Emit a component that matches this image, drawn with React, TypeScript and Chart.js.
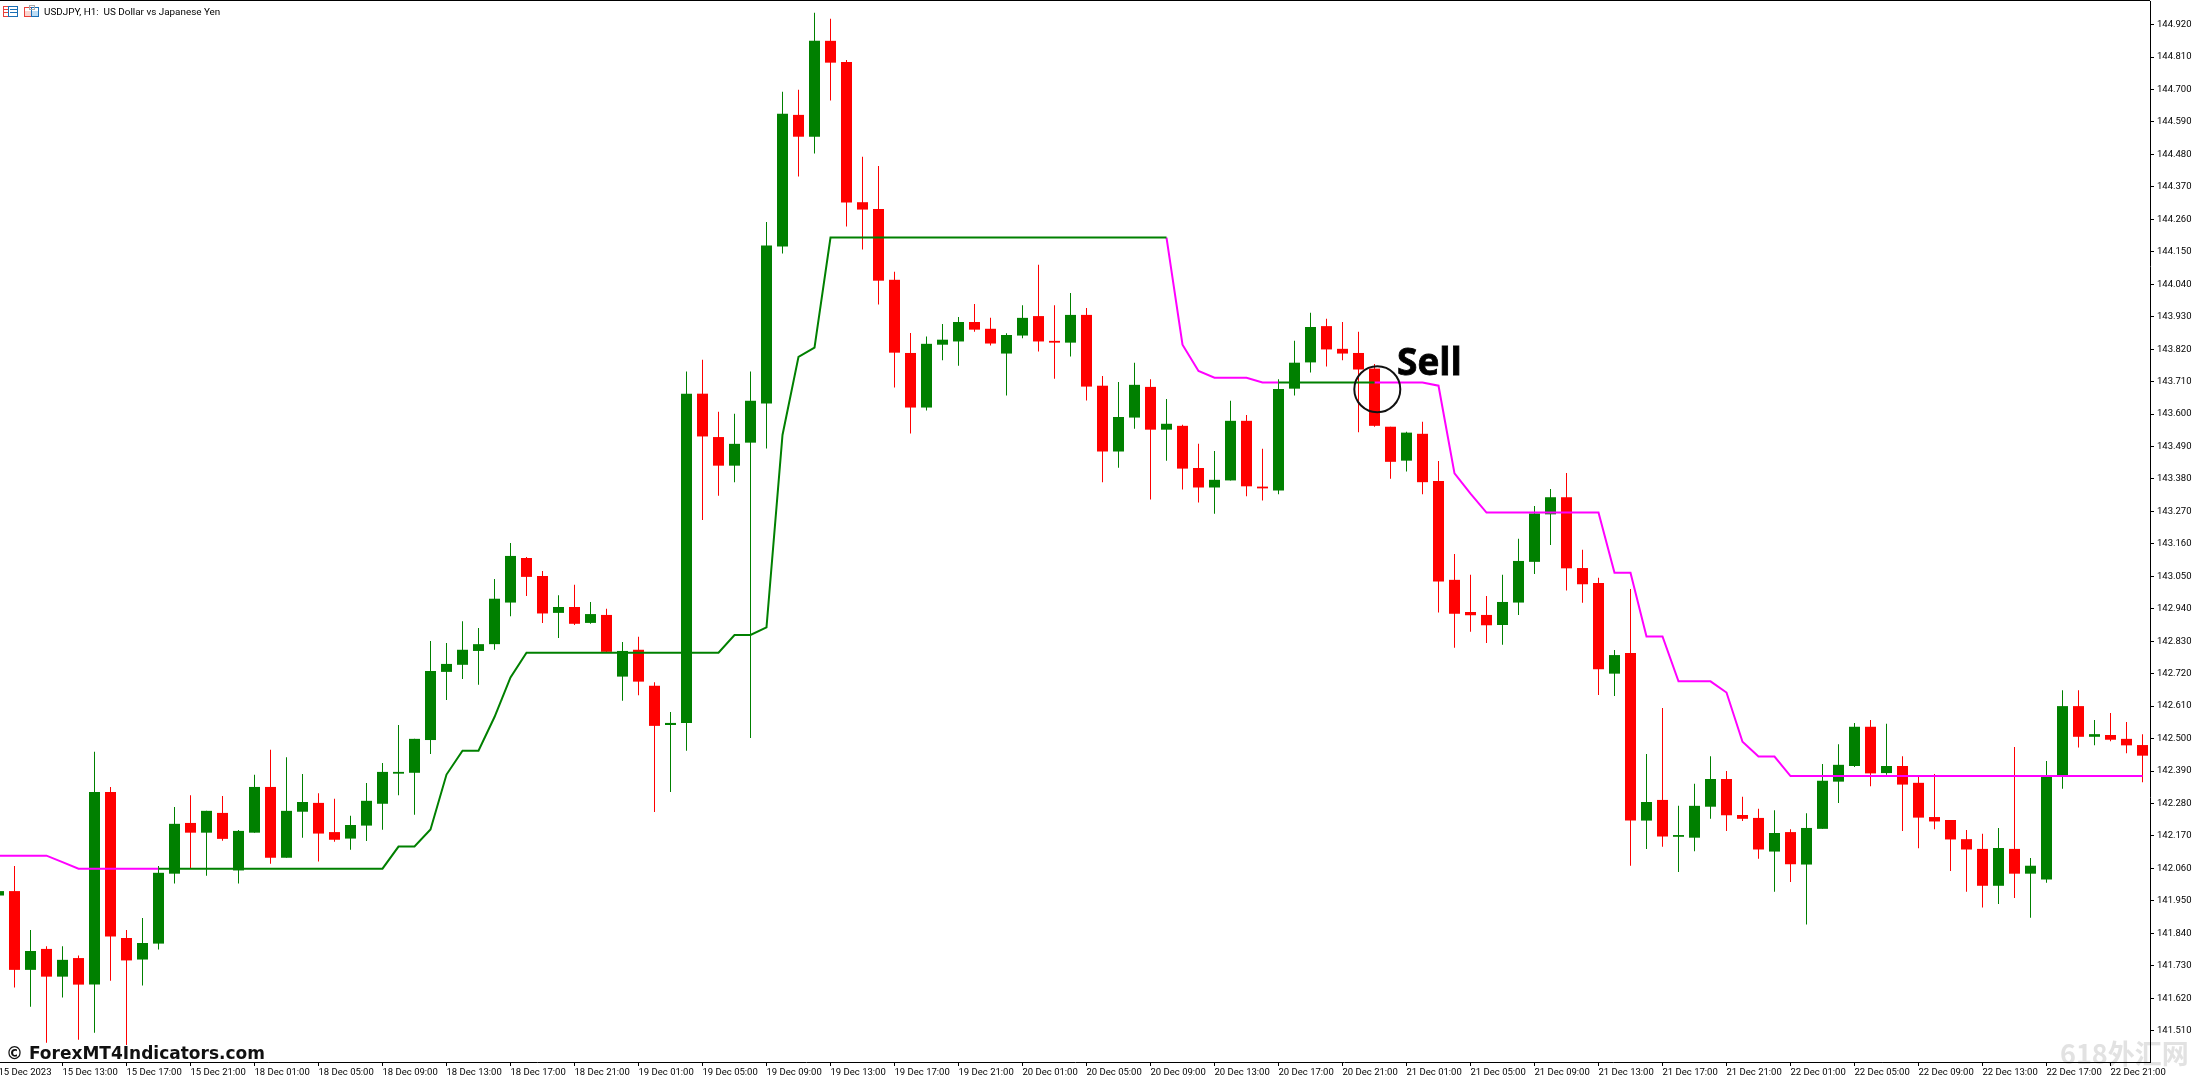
import React, { useEffect, useRef } from "react";
import { Chart, registerables } from "chart.js";

Chart.register(...registerables);

const titleText = "USDJPY, H1:  US Dollar vs Japanese Yen";
const copyrightText = "© ForexMT4Indicators.com";
const signalText = "Sell";
const watermarkText = "618外汇网";

const tickLabels = [
  "15 Dec 2023", "15 Dec 13:00", "15 Dec 17:00", "15 Dec 21:00",
  "18 Dec 01:00", "18 Dec 05:00", "18 Dec 09:00", "18 Dec 13:00", "18 Dec 17:00", "18 Dec 21:00",
  "19 Dec 01:00", "19 Dec 05:00", "19 Dec 09:00", "19 Dec 13:00", "19 Dec 17:00", "19 Dec 21:00",
  "20 Dec 01:00", "20 Dec 05:00", "20 Dec 09:00", "20 Dec 13:00", "20 Dec 17:00", "20 Dec 21:00",
  "21 Dec 01:00", "21 Dec 05:00", "21 Dec 09:00", "21 Dec 13:00", "21 Dec 17:00", "21 Dec 21:00",
  "22 Dec 01:00", "22 Dec 05:00", "22 Dec 09:00", "22 Dec 13:00", "22 Dec 17:00", "22 Dec 21:00",
];

const priceTicks = [
  144.92, 144.81, 144.7, 144.59, 144.48, 144.37, 144.26, 144.15, 144.04, 143.93, 143.82,
  143.71, 143.6, 143.49, 143.38, 143.27, 143.16, 143.05, 142.94, 142.83, 142.72, 142.61,
  142.5, 142.39, 142.28, 142.17, 142.06, 141.95, 141.84, 141.73, 141.62, 141.51,
];

const opens = [
  141.968, 141.983, 141.716, 141.787, 141.693, 141.756, 141.666, 142.319, 141.824, 141.751,
  141.805, 142.042, 142.214, 142.181, 142.248, 142.053, 142.181, 142.336, 142.096, 142.252,
  142.282, 142.183, 142.161, 142.205, 142.279, 142.381, 142.384, 142.495, 142.726, 142.750,
  142.797, 142.820, 142.961, 143.112, 143.051, 142.926, 142.946, 142.892, 142.919, 142.710,
  142.801, 142.679, 142.546, 142.553, 143.669, 143.522, 143.425, 143.503, 143.636, 144.168,
  144.614, 144.540, 144.865, 144.793, 144.318, 144.295, 144.055, 143.807, 143.622, 143.835,
  143.846, 143.912, 143.889, 143.805, 143.866, 143.932, 143.848, 143.842, 143.936, 143.696,
  143.473, 143.588, 143.692, 143.547, 143.560, 143.417, 143.351, 143.375, 143.577, 143.354,
  143.341, 143.686, 143.775, 143.898, 143.821, 143.807, 143.754, 143.557, 143.442, 143.533,
  143.373, 143.038, 142.929, 142.919, 142.885, 142.961, 143.099, 143.260, 143.318, 143.078,
  143.027, 142.720, 142.790, 142.222, 142.292, 142.167, 142.164, 142.269, 142.363, 142.241,
  142.231, 142.117, 142.183, 142.073, 142.194, 142.354, 142.407, 142.540, 142.383, 142.407,
  142.350, 142.234, 142.224, 142.159, 142.126, 142.001, 142.126, 142.042, 142.022, 142.370,
  142.610, 142.506, 142.512, 142.499, 142.478,
];

const highs = [
  141.990, 142.068, 141.851, 141.796, 141.796, 141.765, 142.455, 142.336, 141.851, 141.892,
  142.068, 142.268, 142.308, 142.255, 142.305, 142.190, 142.377, 142.462, 142.437, 142.380,
  142.315, 142.296, 142.238, 142.349, 142.417, 142.546, 142.499, 142.831, 142.824, 142.898,
  142.875, 143.041, 143.163, 143.115, 143.068, 142.986, 143.021, 142.963, 142.940, 142.827,
  142.845, 142.691, 142.590, 143.744, 143.784, 143.608, 143.601, 143.744, 144.251, 144.692,
  144.699, 144.960, 144.940, 144.800, 144.472, 144.441, 144.082, 143.875, 143.863, 143.905,
  143.929, 143.973, 143.926, 143.874, 143.969, 144.106, 143.969, 144.010, 143.959, 143.729,
  143.709, 143.774, 143.718, 143.651, 143.564, 143.499, 143.475, 143.645, 143.597, 143.482,
  143.718, 143.848, 143.943, 143.923, 143.912, 143.879, 143.770, 143.557, 143.540, 143.574,
  143.441, 143.126, 143.055, 142.983, 143.055, 143.177, 143.288, 143.346, 143.400, 143.140,
  143.045, 142.800, 143.007, 142.448, 142.604, 142.272, 142.347, 142.440, 142.390, 142.303,
  142.262, 142.257, 142.193, 142.247, 142.414, 142.481, 142.553, 142.563, 142.550, 142.440,
  142.372, 142.380, 142.224, 142.190, 142.177, 142.197, 142.471, 142.095, 142.424, 142.664,
  142.664, 142.563, 142.587, 142.556, 142.515,
];

const lows = [
  141.960, 141.656, 141.591, 141.469, 141.622, 141.479, 141.503, 141.679, 141.461, 141.663,
  141.785, 142.009, 142.061, 142.035, 142.154, 142.009, 142.181, 142.076, 142.096, 142.164,
  142.083, 142.150, 142.123, 142.153, 142.191, 142.308, 142.242, 142.448, 142.631, 142.702,
  142.682, 142.801, 142.915, 142.983, 142.892, 142.841, 142.885, 142.889, 142.790, 142.628,
  142.647, 142.251, 142.319, 142.459, 143.241, 143.323, 143.369, 142.502, 143.483, 144.144,
  144.405, 144.483, 144.663, 144.236, 144.158, 143.971, 143.690, 143.534, 143.612, 143.782,
  143.764, 143.879, 143.832, 143.663, 143.857, 143.812, 143.720, 143.795, 143.646, 143.369,
  143.418, 143.550, 143.310, 143.442, 143.344, 143.300, 143.262, 143.375, 143.321, 143.307,
  143.328, 143.663, 143.741, 143.761, 143.782, 143.538, 143.557, 143.381, 143.405, 143.328,
  142.927, 142.808, 142.862, 142.824, 142.818, 142.919, 143.058, 143.156, 143.002, 142.960,
  142.648, 142.644, 142.069, 142.126, 142.133, 142.048, 142.118, 142.228, 142.187, 142.221,
  142.093, 141.981, 142.014, 141.870, 142.194, 142.282, 142.404, 142.338, 142.377, 142.187,
  142.128, 142.193, 142.051, 141.981, 141.927, 141.939, 141.960, 141.893, 142.011, 142.330,
  142.470, 142.477, 142.491, 142.450, 142.352,
];

const closes = [
  141.983, 141.716, 141.780, 141.693, 141.750, 141.666, 142.319, 141.829, 141.748, 141.807,
  142.045, 142.211, 142.181, 142.255, 142.160, 142.187, 142.336, 142.096, 142.255, 142.285,
  142.178, 142.157, 142.207, 142.289, 142.387, 142.387, 142.499, 142.729, 142.753, 142.801,
  142.820, 142.974, 143.119, 143.048, 142.924, 142.946, 142.889, 142.922, 142.794, 142.797,
  142.693, 142.543, 142.553, 143.669, 143.524, 143.425, 143.499, 143.645, 144.171, 144.618,
  144.540, 144.865, 144.791, 144.317, 144.293, 144.052, 143.808, 143.622, 143.838, 143.852,
  143.912, 143.886, 143.839, 143.868, 143.926, 143.846, 143.842, 143.936, 143.693, 143.473,
  143.590, 143.699, 143.547, 143.567, 143.415, 143.351, 143.377, 143.577, 143.355, 143.348,
  143.685, 143.774, 143.895, 143.819, 143.805, 143.751, 143.560, 143.438, 143.537, 143.369,
  143.032, 142.923, 142.918, 142.884, 142.963, 143.102, 143.263, 143.318, 143.077, 143.023,
  142.735, 142.783, 142.222, 142.285, 142.168, 142.173, 142.272, 142.363, 142.240, 142.228,
  142.124, 142.180, 142.074, 142.197, 142.357, 142.411, 142.540, 142.382, 142.407, 142.344,
  142.232, 142.219, 142.158, 142.124, 142.001, 142.129, 142.042, 142.069, 142.373, 142.610,
  142.506, 142.515, 142.496, 142.477, 142.442,
];

const upTrend = [
  null, null, null, null, null, null, null, null, null, null,
  142.059, 142.059, 142.059, 142.059, 142.059, 142.059, 142.059, 142.059, 142.059, 142.059,
  142.059, 142.059, 142.059, 142.059, 142.059, 142.134, 142.134, 142.192, 142.378, 142.459,
  142.459, 142.573, 142.707, 142.791, 142.791, 142.791, 142.791, 142.791, 142.791, 142.791,
  142.791, 142.791, 142.791, 142.791, 142.791, 142.791, 142.851, 142.851, 142.877, 143.529,
  143.794, 143.825, 144.198, 144.198, 144.198, 144.198, 144.198, 144.198, 144.198, 144.198,
  144.198, 144.198, 144.198, 144.198, 144.198, 144.198, 144.198, 144.198, 144.198, 144.198,
  144.198, 144.198, 144.198, 144.198, null, null, null, null, null, null,
  143.707, 143.707, 143.707, 143.707, 143.707, 143.707, 143.707, null, null, null,
];

const downTrend = [
  142.103, 142.103, 142.103, 142.103, 142.081, 142.059, 142.059, 142.059, 142.059, 142.059,
  142.059, null, null, null, null, null, null, null, null, null,
  null, null, null, null, null, null, null, null, null, null,
  null, null, null, null, null, null, null, null, null, null,
  null, null, null, null, null, null, null, null, null, null,
  null, null, null, null, null, null, null, null, null, null,
  null, null, null, null, null, null, null, null, null, null,
  null, null, null, 144.198, 143.835, 143.746, 143.723, 143.723, 143.723, 143.707,
  143.707, null, null, null, null, null, 143.707, 143.707, 143.707, 143.707,
  143.696, 143.399, 143.330, 143.266, 143.266, 143.266, 143.266, 143.266, 143.266, 143.266,
  143.266, 143.062, 143.062, 142.846, 142.846, 142.694, 142.694, 142.694, 142.656, 142.489,
  142.439, 142.439, 142.373, 142.373, 142.373, 142.373, 142.373, 142.373, 142.373, 142.373,
  142.373, 142.373, 142.373, 142.373, 142.373, 142.373, 142.373, 142.373, 142.373, 142.373,
  142.373, 142.373, 142.373, 142.373, 142.373,
];

const signalMark = { x: 86.175, y: 143.684 };

const GREEN = "#008000";
const RED = "#ff0000";
const MAGENTA = "#ff00ff";
const AXIS_FONT = { family: "Roboto", size: 9.5 };

const headerPlugin = {
  id: "header",
  beforeDraw(chart: any) {
    const c = chart.ctx;
    c.save();
    c.fillStyle = "#e2e2e2";
    c.font = "bold 27px 'Noto Sans CJK SC'";
    c.textBaseline = "alphabetic";
    c.textAlign = "left";
    c.fillText(watermarkText, 2060, 1064);
    c.restore();
  },
  afterDraw(chart: any) {
    const c = chart.ctx;
    c.save();
    c.fillStyle = "#000";
    c.fillRect(0, 0, 2150, 1);

    // window icons
    c.lineWidth = 1;
    c.strokeStyle = "#e8403a";
    c.strokeRect(3.5, 6.5, 5, 10);
    c.beginPath();
    c.moveTo(4, 9.5); c.lineTo(8, 9.5);
    c.moveTo(4, 12.5); c.lineTo(8, 12.5);
    c.stroke();
    c.strokeStyle = "#1a6fb5";
    c.strokeRect(8.5, 6.5, 9, 10);
    c.beginPath();
    c.moveTo(10, 9.5); c.lineTo(17, 9.5);
    c.moveTo(10, 12.5); c.lineTo(17, 12.5);
    c.stroke();
    c.strokeStyle = "#e8403a";
    c.strokeRect(24.5, 7.5, 7, 9);
    c.fillStyle = "#fbd5d0";
    c.fillRect(25, 11, 6, 5);
    c.strokeStyle = "#1a6fb5";
    c.strokeRect(31.5, 7.5, 7, 9);
    c.fillStyle = "#bcdcf5";
    c.fillRect(32, 11, 6, 5);
    c.strokeStyle = "#aaa";
    c.strokeRect(29.5, 5.5, 5, 4);

    c.fillStyle = "#000";
    c.textAlign = "left";
    c.textBaseline = "alphabetic";
    c.font = "9.9px Roboto";
    c.fillText(titleText, 44, 15);

    c.font = "bold 37px 'Open Sans'";
    c.fillText(signalText, 1397, 375);
    c.strokeStyle = "#000";
    c.lineWidth = 0.8;
    c.strokeText(signalText, 1397, 375);

    c.fillStyle = "#111";
    c.font = "bold 17px 'DejaVu Sans'";
    c.fillText(copyrightText, 6, 1059);
    c.restore();
  },
};

export default function App() {
  const ref = useRef<HTMLCanvasElement | null>(null);

  useEffect(() => {
    document.body.style.margin = "0";
    if (!ref.current) return;
    const up = opens.map((o, i) => closes[i] >= o);
    const colors = up.map((u) => (u ? GREEN : RED));
    const chart = new Chart(ref.current, {
      type: "bar",
      plugins: [headerPlugin],
      data: {
        datasets: [
          {
            type: "line",
            data: [signalMark],
            showLine: false,
            pointRadius: 23,
            pointBorderWidth: 2,
            pointBorderColor: "#111",
            pointBackgroundColor: "rgba(0,0,0,0)",
            order: -1,
            clip: false,
          },
          {
            type: "line",
            data: upTrend.map((y, x) => ({ x, y })),
            borderColor: GREEN,
            borderWidth: 2,
            pointRadius: 0,
            tension: 0,
            spanGaps: false,
            order: 0,
          },
          {
            type: "line",
            data: downTrend.map((y, x) => ({ x, y })),
            borderColor: MAGENTA,
            borderWidth: 2,
            pointRadius: 0,
            tension: 0,
            spanGaps: false,
            order: 0,
          },
          {
            type: "bar",
            data: opens.map((o, x) => ({ x, y: [o, closes[x]] })),
            backgroundColor: colors,
            barThickness: 11,
            grouped: false,
            borderWidth: 0,
            inflateAmount: 0,
            order: 1,
          },
          {
            type: "bar",
            data: lows.map((l, x) => ({ x, y: [l, highs[x]] })),
            backgroundColor: colors,
            barThickness: 1,
            grouped: false,
            borderWidth: 0,
            inflateAmount: 0,
            order: 2,
          },
        ],
      } as any,
      options: {
        responsive: false,
        animation: false,
        devicePixelRatio: 1,
        events: [],
        layout: { autoPadding: false, padding: { top: 1, left: 0, right: 0, bottom: 0 } },
        plugins: { legend: { display: false }, tooltip: { enabled: false }, title: { display: false } },
        scales: {
          x: {
            type: "linear",
            offset: false,
            min: 0.09375,
            max: 134.46875,
            grid: { offset: false, drawOnChartArea: false, drawTicks: true, tickLength: 4, tickColor: "#000" },
            border: { display: true, color: "#000", width: 1 },
            ticks: {
              autoSkip: false,
              maxRotation: 0,
              minRotation: 0,
              align: "start",
              padding: 1,
              color: "#000",
              font: AXIS_FONT,
              callback: (v: any) => tickLabels[Math.round(Number(v) / 4)],
            },
            afterBuildTicks: (s: any) => {
              s.ticks = tickLabels.map((_, i) => ({ value: i * 4 }));
            },
            afterFit: (s: any) => {
              s.height = 15;
              s.paddingLeft = 0;
              s.paddingRight = 0;
            },
          },
          y: {
            type: "linear",
            position: "right",
            min: 141.4037,
            max: 145.0,
            grid: { drawOnChartArea: false, drawTicks: true, tickLength: 4, tickColor: "#000" },
            border: { display: true, color: "#000", width: 1 },
            ticks: {
              autoSkip: false,
              padding: 3,
              color: "#000",
              font: AXIS_FONT,
              callback: (v: any) => Number(v).toFixed(3),
            },
            afterBuildTicks: (s: any) => {
              s.ticks = priceTicks.map((value) => ({ value }));
            },
            afterFit: (s: any) => {
              s.width = 43;
              s.paddingTop = 0;
              s.paddingBottom = 0;
            },
          },
        },
      } as any,
    });
    return () => chart.destroy();
  }, []);

  return (
    <canvas
      ref={ref}
      width={2193}
      height={1077}
      style={{ display: "block", width: 2193, height: 1077 }}
    />
  );
}
